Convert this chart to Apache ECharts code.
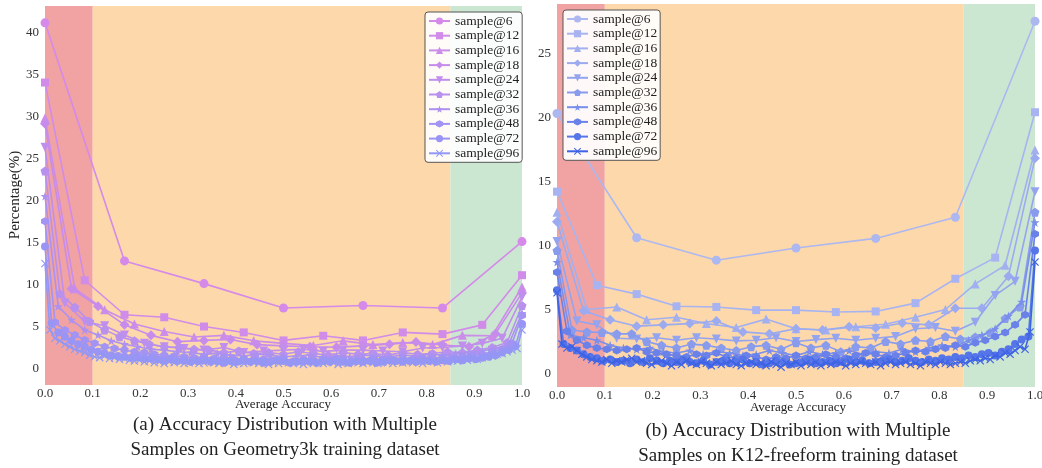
<!DOCTYPE html>
<html>
<head>
<meta charset="utf-8">
<script src="https://cdn.jsdelivr.net/npm/echarts@6/dist/echarts.min.js"></script>
<style>
  html, body { margin: 0; padding: 0; background: #fff; }
  #chart { width: 1042px; height: 468px; }
</style>
</head>
<body>
<div id="chart"></div>
<script>
const names = ['sample@6', 'sample@12', 'sample@16', 'sample@18', 'sample@24',
               'sample@32', 'sample@36', 'sample@48', 'sample@72', 'sample@96'];
const geoYTicks = [0, 5, 10, 15, 20, 25, 30, 35, 40];
const k12YTicks = [0, 5, 10, 15, 20, 25];
const zones = [0, 0.1, 0.85, 1.0];

// (a) Geometry3k: percentage of problems at each accuracy level k/N
const geo6 = [41.1, 12.8, 10.1, 7.2, 7.5, 7.2, 15.1];
const geo12 = [34.0, 10.5, 6.4, 6.1, 5.0, 4.3, 3.35, 3.9, 3.35, 4.3, 4.1, 5.2, 11.1];
const geo16 = [29.8, 9.5, 7.0, 5.3, 4.4, 3.75, 3.95, 3.3, 3.0, 2.75, 3.3, 2.85, 3.1, 2.85, 3.95, 3.9, 9.7];
const geo18 = [29.1, 9.5, 7.4, 5.2, 3.95, 3.2, 3.35, 3.45, 2.85, 2.7, 2.6, 2.55, 2.7, 2.9, 3.15, 2.8, 2.6, 4.15, 9.0];
const geo24 = [26.3, 7.8, 5.6, 5.1, 4.0, 3.0, 2.6, 2.4, 2.2, 2.5, 1.9, 2.1, 2.2, 2.3, 2.05, 2.2, 2.2, 2.1, 2.0, 2.45, 2.5, 2.7, 3.0, 3.6, 8.5];
const geo32 = [23.5, 8.9, 7.3, 5.6, 4.6, 3.8, 3.3, 2.9, 2.6, 2.5, 2.3, 2.2, 1.9, 2.1, 1.8, 1.9, 1.7, 2.0, 1.8, 1.6,
               1.9, 1.7, 1.8, 1.6, 1.9, 1.7, 1.8, 2.0, 1.9, 2.2, 2.5, 3.1, 7.5];
const geo36 = [20.5, 7.4, 5.8, 4.6, 4.0, 3.3, 2.9, 2.6, 2.3, 2.2, 2.0, 1.9, 1.7, 1.8, 1.6, 1.5, 1.7, 1.6, 1.4, 1.5,
               1.6, 1.3, 1.5, 1.4, 1.6, 1.5, 1.4, 1.6, 1.5, 1.7, 1.6, 1.8, 1.9, 2.1, 2.4, 2.9, 6.6];
const geo48 = [17.5, 5.5, 4.6, 4.0, 3.4, 3.0, 2.6, 2.4, 2.2, 2.0, 1.9, 1.7, 1.6, 1.5, 1.4, 1.3, 1.4, 1.2, 1.3, 1.1,
               1.2, 1.0, 1.1, 1.0, 1.2, 0.9, 1.1, 1.0, 1.2, 1.0, 1.1, 0.9, 1.0, 1.2, 1.1, 1.0, 1.2, 1.1, 1.3, 1.2,
               1.4, 1.3, 1.5, 1.6, 1.7, 2.0, 2.3, 3.0, 6.3];
const geo72 = [14.5, 5.4, 4.3, 3.8, 3.3, 2.9, 2.6, 2.2, 2.0, 1.8,
               1.6, 1.5, 1.4, 1.3, 1.4, 1.2, 1.3, 1.1, 1.0, 1.1,
               0.9, 1.0, 0.8, 0.9, 1.0, 0.8, 0.9, 0.7, 0.9, 0.8,
               1.0, 0.8, 0.9, 0.7, 0.8, 1.0, 0.9, 0.7, 0.8, 0.9,
               0.8, 0.7, 0.9, 0.8, 1.0, 0.8, 0.7, 0.9, 0.8, 0.9,
               0.7, 0.8, 1.0, 0.9, 0.8, 0.9, 0.8, 1.0, 0.9, 0.8,
               1.0, 0.9, 1.1, 1.0, 1.2, 1.1, 1.3, 1.4, 1.6, 1.9,
               2.2, 2.7, 5.3];
const geo96 = [12.5, 4.6, 3.6, 3.3, 2.9, 2.6, 2.3, 2.1, 1.9, 1.6,
               1.4, 1.3, 1.5, 1.2, 1.3, 1.1, 1.2, 1.0, 0.9, 1.0,
               0.8, 0.9, 0.7, 0.8, 0.6, 0.8, 0.7, 0.9, 0.6, 0.7,
               0.8, 0.6, 0.7, 0.9, 0.7, 0.6, 0.8, 0.7, 0.5, 0.7,
               0.6, 0.8, 0.7, 0.6, 0.8, 0.5, 0.7, 0.6, 0.8, 0.7,
               0.6, 0.7, 0.5, 0.8, 0.6, 0.7, 0.6, 0.8, 0.7, 0.5,
               0.7, 0.6, 0.8, 0.7, 0.6, 0.8, 0.7, 0.6, 0.8, 0.7,
               0.6, 0.8, 0.7, 0.9, 0.7, 0.8, 0.6, 0.8, 0.9, 0.7,
               0.9, 0.8, 1.0, 0.9, 1.1, 1.0, 1.2, 1.1, 1.3, 1.4,
               1.5, 1.7, 1.8, 2.0, 2.2, 2.4, 4.6];

// (b) K12-freeform
const k6 = [20.3, 10.6, 8.85, 9.8, 10.55, 12.2, 27.5];
const k12 = [14.2, 6.9, 6.2, 5.25, 5.2, 4.95, 4.95, 4.8, 4.85, 5.5, 7.4, 9.05, 20.4];
const k16 = [12.6, 5.0, 5.2, 4.2, 4.4, 3.9, 3.6, 4.25, 3.5, 3.4, 3.65, 3.85, 4.4, 5.0, 7.0, 8.45, 17.45];
const k18 = [11.85, 4.9, 4.2, 3.7, 3.8, 3.9, 4.1, 3.25, 3.1, 3.5, 3.4, 3.65, 3.55, 3.95, 3.8, 5.1, 5.1, 7.6, 16.8];
const k24 = [10.3, 4.1, 3.8, 2.75, 2.7, 2.8, 2.6, 2.8, 2.7, 2.55, 2.6, 2.8, 2.5, 2.65, 2.75, 2.6, 2.75, 2.9, 3.5, 3.6,
             3.3, 4.0, 6.1, 7.2, 14.2];
const k32 = [9.6, 3.4, 3.25, 3.2, 3.1, 3.1, 2.5, 2.2, 2.0, 2.3, 2.2, 2.0, 1.8, 2.1, 2.2, 1.9, 2.4, 2.0, 2.2, 1.7,
             2.1, 2.0, 2.5, 2.3, 2.6, 2.5, 2.9, 2.7, 2.85, 3.2, 4.3, 5.2, 12.6];
const k36 = [8.7, 3.0, 2.8, 2.6, 2.2, 2.0, 1.9, 2.0, 1.7, 1.6, 1.8, 1.5, 1.7, 1.6, 1.4, 1.5, 1.8, 1.6, 1.4, 1.7,
             1.5, 1.6, 1.8, 1.5, 1.7, 1.6, 1.9, 1.7, 2.0, 2.2, 2.1, 2.6, 3.0, 3.5, 4.5, 5.6, 11.8];
const k48 = [7.9, 3.3, 2.6, 2.2, 2.0, 1.9, 1.8, 1.9, 2.0, 1.7, 1.6, 1.5, 1.4, 1.3, 1.5, 1.4, 1.6, 1.3, 1.2, 1.4,
             1.3, 1.1, 1.3, 1.2, 1.4, 1.2, 1.3, 1.5, 1.3, 1.2, 1.4, 1.6, 1.5, 1.3, 1.4, 1.6, 1.8, 1.7, 1.9, 2.0,
             2.2, 2.1, 2.4, 2.6, 2.9, 3.2, 3.8, 4.6, 10.9];
const k72 = [6.5, 2.3, 2.0, 1.8, 1.5, 1.3, 1.2, 1.0, 1.1, 0.9,
             1.0, 0.8, 1.1, 0.9, 1.2, 1.0, 0.8, 1.0, 0.9, 1.1,
             0.9, 0.8, 1.0, 0.7, 0.9, 1.0, 0.8, 0.9, 1.1, 0.8,
             0.9, 0.7, 0.8, 1.0, 0.9, 0.7, 0.8, 0.9, 1.1, 0.8,
             0.9, 1.0, 0.8, 0.9, 1.1, 0.9, 1.0, 0.8, 0.9, 1.0,
             1.1, 0.9, 1.0, 1.2, 1.0, 0.9, 1.1, 1.0, 1.2, 1.1,
             1.3, 1.2, 1.4, 1.3, 1.5, 1.6, 1.4, 1.7, 1.9, 2.3,
             2.65, 2.9, 9.6];
const k96 = [6.3, 2.3, 2.0, 2.1, 1.8, 1.5, 1.3, 1.1, 1.0, 0.9,
             1.1, 0.8, 1.0, 0.9, 1.1, 1.2, 0.9, 1.0, 0.8, 0.7,
             0.9, 1.0, 0.8, 0.6, 0.9, 0.7, 1.0, 0.8, 0.7, 0.9,
             0.8, 0.6, 0.9, 0.7, 0.8, 1.0, 0.7, 0.6, 0.8, 0.9,
             0.7, 0.8, 0.6, 0.9, 0.7, 0.5, 0.8, 0.7, 0.9, 0.6,
             0.8, 0.7, 0.9, 0.6, 0.8, 0.7, 0.9, 0.8, 0.6, 0.8,
             0.7, 0.9, 0.8, 0.7, 0.9, 0.6, 0.8, 0.9, 0.7, 0.8,
             0.9, 0.7, 0.8, 0.6, 0.9, 0.8, 0.7, 0.9, 0.8, 0.7,
             0.8, 0.9, 0.8, 1.0, 1.1, 1.0, 1.2, 1.1, 1.4, 1.3,
             1.6, 1.5, 1.8, 2.1, 1.9, 3.25, 8.7];

const geoSeries = [geo6, geo12, geo16, geo18, geo24, geo32, geo36, geo48, geo72, geo96];
const k12Series = [k6, k12, k16, k18, k24, k32, k36, k48, k72, k96];

const geoColors = ['#d58ae9', '#d18be9', '#cc8cea', '#c78ceb', '#c08eec',
                   '#b890ee', '#ad91f0', '#a393f2', '#9a95f4', '#9397f5'];
const k12Colors = ['#adb8f1', '#a8b4f1', '#a2b0f0', '#9cabef', '#94a4ee',
                   '#899bed', '#7a8eeb', '#6a81ea', '#5675e8', '#3f63e5'];
const symbols = [
  'circle', 'rect', 'triangle', 'diamond',
  'path://M0,0L10,0L5,9Z',
  'path://M5,0L10,3.8L8.1,10L1.9,10L0,3.8Z',
  'path://M5,0L6.2,3.6L10,3.6L6.9,5.9L8.1,9.5L5,7.3L1.9,9.5L3.1,5.9L0,3.6L3.8,3.6Z',
  'path://M5,0L9.3,2.5L9.3,7.5L5,10L0.7,7.5L0.7,2.5Z',
  'circle',
  'path://M0,1L1,0L5,4L9,0L10,1L6,5L10,9L9,10L5,6L1,10L0,9L4,5Z'
];
const symbolSizes = [9, 8, 9, 10, 9, 9, 9, 8, 8, 8];

const serif = 'Liberation Serif';
const zoneColors = ['#f0a3a2', '#fdd8aa', '#cbe6d1'];

const chart = echarts.init(document.getElementById('chart'));

function bandSeries(idx) {
  return {
    type: 'line', data: [], xAxisIndex: idx, yAxisIndex: idx, z: 0, silent: true,
    markArea: {
      silent: true,
      data: zoneColors.map((c, i) => [
        { xAxis: zones[i], itemStyle: { color: c, opacity: 1 } },
        { xAxis: zones[i + 1] }
      ])
    }
  };
}

function lineSeries(vals, i, idx, colors, suffix) {
  const n = vals.length - 1;
  return {
    name: names[i] + suffix,
    type: 'line',
    xAxisIndex: idx, yAxisIndex: idx, z: 2 + i,
    data: vals.map((v, k) => [k / n, v]),
    symbol: symbols[i],
    symbolSize: symbolSizes[i],
    showAllSymbol: true,
    color: colors[i],
    lineStyle: { width: 1.6, color: colors[i] },
    itemStyle: { color: colors[i] }
  };
}

function xAxisOpt(idx) {
  return {
    type: 'value', gridIndex: idx, min: 0, max: 1, interval: 0.1, z: 1,
    axisLine: { show: false }, axisTick: { show: false },
    axisLabel: { fontFamily: serif, fontSize: 13, color: '#333', margin: 2,
                 formatter: v => v.toFixed(1) },
    splitLine: { show: true, lineStyle: { color: '#fff', width: 1, type: [2, 2] } }
  };
}

function yAxisOpt(idx, min, max, ticks) {
  return {
    type: 'value', gridIndex: idx, min: min, max: max, z: 1,
    axisLine: { show: false },
    axisTick: { show: false, customValues: ticks },
    axisLabel: { fontFamily: serif, fontSize: 13, color: '#333', margin: 6, customValues: ticks },
    splitLine: { show: true, lineStyle: { color: '#fff', width: 1, type: [2, 2] } }
  };
}

function legendOpt(left, top, suffix) {
  return {
    orient: 'vertical', left: left, top: top,
    data: names.map(n => n + suffix),
    formatter: n => n.replace('\u200b', ''),
    backgroundColor: 'rgba(255,255,255,0.92)',
    borderColor: '#555', borderWidth: 1, borderRadius: 3,
    padding: [2, 3, 2, 3], itemGap: 0.7, itemWidth: 21, itemHeight: 9,
    textStyle: { fontFamily: serif, fontSize: 13.5, color: '#222', lineHeight: 14 }
  };
}

const txt = (x, y, s, size, extra) => Object.assign({
  type: 'text', x: x, y: y,
  style: { text: s, font: size + 'px "' + serif + '"', fill: '#222', align: 'center', verticalAlign: 'middle' }
}, extra || {});

const series = [bandSeries(0), bandSeries(1)];
geoSeries.forEach((v, i) => series.push(lineSeries(v, i, 0, geoColors, '')));
k12Series.forEach((v, i) => series.push(lineSeries(v, i, 1, k12Colors, '\u200b')));

chart.setOption({
  animation: false,
  grid: [
    { left: 45, top: 6, width: 477, height: 379, outerBoundsMode: 'none' },
    { left: 557, top: 4, width: 478, height: 383, outerBoundsMode: 'none' }
  ],
  xAxis: [xAxisOpt(0), xAxisOpt(1)],
  yAxis: [yAxisOpt(0, -1.95, 43.1, geoYTicks), yAxisOpt(1, -1.05, 28.85, k12YTicks)],
  legend: [legendOpt(425, 12, ''), legendOpt(563, 10, '\u200b')],
  graphic: [
    txt(15, 195, 'Percentage(%)', 15, { rotation: Math.PI / 2 }),
    txt(283, 405, 'Average Accuracy', 13),
    txt(798, 408, 'Average Accuracy', 13),
    txt(285, 425, '(a) Accuracy Distribution with Multiple', 19),
    txt(285, 450, 'Samples on Geometry3k training dataset', 19),
    txt(798, 431, '(b) Accuracy Distribution with Multiple', 19),
    txt(798, 456, 'Samples on K12-freeform training dataset', 19)
  ],
  series: series
});
</script>
</body>
</html>
